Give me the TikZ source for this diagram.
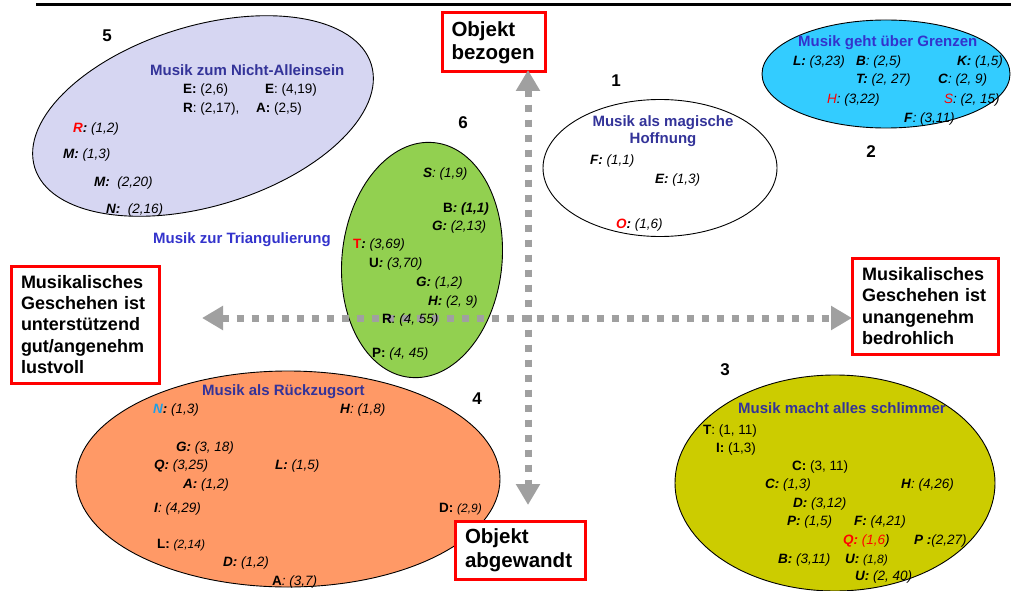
\documentclass[tikz,border=0pt]{standalone}
\usepackage{fontspec}
\setmainfont{Liberation Sans}
\usetikzlibrary{shapes.geometric,arrows.meta}
\definecolor{lav}{RGB}{214,214,242}
\definecolor{cyanb}{RGB}{51,204,255}
\definecolor{greenb}{RGB}{146,208,80}
\definecolor{orangeb}{RGB}{255,153,102}
\definecolor{oliveb}{RGB}{204,204,0}
\definecolor{axisgray}{RGB}{160,160,160}
\definecolor{tblue}{RGB}{51,51,153}
\definecolor{tblueb}{RGB}{51,51,204}
\definecolor{nblue}{RGB}{30,160,230}
\definecolor{boxred}{RGB}{255,0,0}
\newcommand\Bf[1]{\textbf{#1}}
\newcommand\BI[1]{\textbf{\textit{#1}}}
\newcommand\It[1]{\textit{#1}}
\newcommand\Rd[1]{\textcolor{boxred}{#1}}
\begin{document}
\begin{tikzpicture}[x=1pt,y=-1pt,
  blob/.style={ellipse, draw=black, line width=0.9pt, inner sep=0pt},
  txt/.style={anchor=base west, inner sep=0pt, font=\fontsize{13.5}{16}\selectfont},
  ttl/.style={anchor=base west, inner sep=0pt, font=\fontsize{15}{18}\selectfont\bfseries, text=tblue},
  ttlc/.style={ttl, anchor=base},
  num/.style={inner sep=0pt, font=\fontsize{17}{20}\selectfont\bfseries},
  redbox/.style={draw=boxred, line width=3pt, fill=white, align=left, inner sep=0pt},
  sidebox/.style={redbox, font=\fontsize{18}{21.3}\selectfont\bfseries},
  objbox/.style={redbox, font=\fontsize{20.5}{23.5}\selectfont\bfseries},
  axis/.style={draw=axisgray, line width=7pt, dash pattern=on 7pt off 8pt,
    {Triangle[length=21pt,width=23pt]}-{Triangle[length=21pt,width=23pt]}}
]
\useasboundingbox (0,0) rectangle (1011,591);
\fill[white] (0,0) rectangle (1011,591);
\draw[line width=2.5pt] (36,4.5) -- (1011,4.5);

% ellipses
\node[blob, fill=lav, minimum width=352pt, minimum height=180pt, rotate=17] (e5) at (203,116) {};
\node[blob, fill=cyanb, minimum width=248pt, minimum height=108pt] (e2) at (886,74) {};
\node[blob, fill=white, minimum width=234pt, minimum height=137pt] (e1) at (660,168) {};
\node[blob, fill=greenb, minimum width=160pt, minimum height=236pt, rotate=-6] (e6) at (422,260) {};
\node[blob, fill=orangeb, minimum width=424pt, minimum height=216pt] (e4) at (288,479) {};
\node[blob, fill=oliveb, minimum width=320pt, minimum height=216pt] (e3) at (835,483) {};

% boxes
\node[objbox, minimum width=103pt, minimum height=59pt, text width=84pt] (top) at (493.5,42.5) {Objekt\\bezogen};
\node[objbox, minimum width=130pt, minimum height=58pt, text width=110pt] (bot) at (520,550) {Objekt\\abgewandt};
\node[sidebox, minimum width=148pt, minimum height=117pt, text width=128pt] (left) at (85,324.5) {Musikalisches\\Geschehen ist\\unterstützend\\gut/angenehm\\lustvoll};
\node[sidebox, minimum width=146pt, minimum height=96pt, text width=126pt] (right) at (925,306) {Musikalisches\\Geschehen ist\\unangenehm\\bedrohlich};

% axes
\coordinate (vt) at (528,70);
\coordinate (vb) at (528,505);
\coordinate (hl) at (202,318);
\coordinate (hr) at (852,318);
\draw[axis] (vt) -- (vb);
\draw[axis] (hl) -- (hr);

% numbers
\node[num] (n5) at (107,36) {5};
\node[num] (n1) at (616,81) {1};
\node[num] (n2) at (871,152) {2};
\node[num] (n6) at (463,123) {6};
\node[num] (n3) at (725,370) {3};
\node[num] (n4) at (477,399) {4};

% ellipse 5
\node[ttl] (t5) at (150,76) {Musik zum Nicht-Alleinsein};
\node[txt] (a5a) at (183,94) {\Bf{E:} (2,6)};
\node[txt] (a5b) at (265,94) {\Bf{E}: (4,19)};
\node[txt] (a5c) at (183,113) {\Bf{R}: (2,17),};
\node[txt] (a5d) at (256,113) {\Bf{A:} (2,5)};
\node[txt] (a5e) at (73,132) {\BI{\Rd{R}:} \It{(1,2)}};
\node[txt] (a5f) at (63,158) {\BI{M:} \It{(1,3)}};
\node[txt] (a5g) at (94,186) {\BI{M:}\ \ \It{(2,20)}};
\node[txt] (a5h) at (106,213) {\BI{N:}\ \ \It{(2,16)}};

% ellipse 2
\node[ttl, text=tblueb] (t2) at (798,47) {Musik geht über Grenzen};
\node[txt] (a2a) at (793,66) {\BI{L:} \It{(3,23)}};
\node[txt] (a2b) at (856,66) {\BI{B}\It{: (2,5)}};
\node[txt] (a2c) at (957,66) {\BI{K:} \It{(1,5)}};
\node[txt] (a2d) at (856,84) {\BI{T:} \It{(2, 27)}};
\node[txt] (a2e) at (938,84) {\BI{C}\It{: (2, 9)}};
\node[txt] (a2f) at (827,103) {\It{\Rd{H}: (3,22)}};
\node[txt] (a2g) at (944,103) {\It{\Rd{S}: (2, 15)}};
\node[txt] (a2h) at (904,122) {\BI{F}\It{: (3,11)}};

% ellipse 1
\node[ttlc] (t1a) at (663,127) {Musik als magische};
\node[ttlc] (t1b) at (663,143) {Hoffnung};
\node[txt] (a1a) at (590,164) {\BI{F:} \It{(1,1)}};
\node[txt] (a1b) at (655,183) {\BI{E:} \It{(1,3)}};
\node[txt] (a1c) at (616,228) {\BI{\Rd{O}:} \It{(1,6)}};

% ellipse 6
\node[ttl, text=tblueb] (t6) at (153,243) {Musik zur Triangulierung};
\node[txt] (a6a) at (423,177) {\BI{S}\It{: (1,9)}};
\node[txt] (a6b) at (443,212) {\Bf{B}\BI{: (1,1)}};
\node[txt] (a6c) at (432,230) {\BI{G:} \It{(2,13)}};
\node[txt] (a6d) at (353,248) {\Bf{\Rd{T}}\BI{:} \It{(3,69)}};
\node[txt] (a6e) at (369,267) {\Bf{U}\BI{:} \It{(3,70)}};
\node[txt] (a6f) at (416,286) {\BI{G:} \It{(1,2)}};
\node[txt] (a6g) at (428,305) {\BI{H:} \It{(2, 9)}};
\node[txt] (a6h) at (382,323) {\Bf{R}\It{: (4, 55)}};
\node[txt] (a6i) at (372,357) {\Bf{P:} \It{(4, 45)}};

% ellipse 4
\node[ttl] (t4) at (202,395) {Musik als Rückzugsort};
\node[txt] (a4a) at (153,413) {\BI{\textcolor{nblue}{N}:} \It{(1,3)}};
\node[txt] (a4b) at (340,413) {\BI{H}\It{: (1,8)}};
\node[txt] (a4c) at (176,451) {\BI{G:} \It{(3, 18)}};
\node[txt] (a4d) at (154,469) {\BI{Q:} \It{(3,25)}};
\node[txt] (a4e) at (275,469) {\BI{L:} \It{(1,5)}};
\node[txt] (a4f) at (183,488) {\BI{A:} \It{(1,2)}};
\node[txt] (a4g) at (154,512) {\BI{I}\It{: (4,29)}};
\node[txt] (a4h) at (439,512) {\Bf{D:} {\fontsize{12}{14}\selectfont\It{(2,9)}}};
\node[txt] (a4i) at (157,548) {\Bf{L:} {\fontsize{12}{14}\selectfont\It{(2,14)}}};
\node[txt] (a4j) at (223,566) {\BI{D:} \It{(1,2)}};
\node[txt] (a4k) at (272,585) {\Bf{A}\It{: (3,7)}};

% ellipse 3
\node[ttl] (t3) at (738,413) {Musik macht alles schlimmer};
\node[txt] (a3a) at (703,434) {\Bf{T}: (1, 11)};
\node[txt] (a3b) at (716,452) {\Bf{I:} (1,3)};
\node[txt] (a3c) at (792,470) {\Bf{C:} (3, 11)};
\node[txt] (a3d) at (765,488) {\BI{C:} \It{(1,3)}};
\node[txt] (a3e) at (901,488) {\BI{H}\It{: (4,26)}};
\node[txt] (a3f) at (793,507) {\BI{D:} \It{(3,12)}};
\node[txt] (a3g) at (787,525) {\BI{P:} \It{(1,5)}};
\node[txt] (a3h) at (854,525) {\BI{F:} \It{(4,21)}};
\node[txt] (a3i) at (843,544) {\Rd{\BI{Q:} \It{(1,6}}\It{)}};
\node[txt] (a3j) at (914,544) {\BI{P :}\It{(2,27)}};
\node[txt] (a3k) at (778,563) {\BI{B:} \It{(3,11)}};
\node[txt] (a3l) at (845,563) {\BI{U:} {\fontsize{12}{14}\selectfont\It{(1,8)}}};
\node[txt] (a3m) at (855,580) {\BI{U:} \It{(2, 40)}};
\end{tikzpicture}
\end{document}
